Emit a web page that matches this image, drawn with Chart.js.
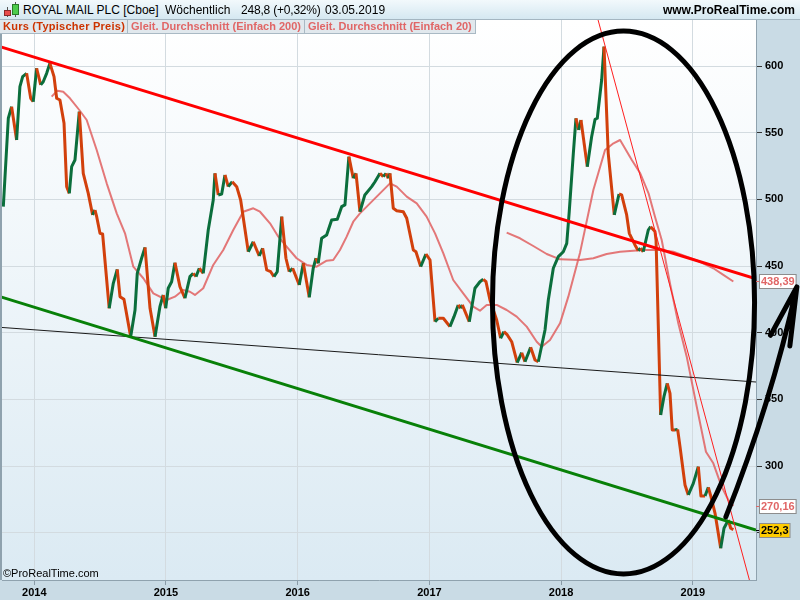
<!DOCTYPE html>
<html>
<head>
<meta charset="utf-8">
<script src="https://cdn.jsdelivr.net/npm/chart.js@4.4.1/dist/chart.umd.min.js"></script>
<style>
  body { margin: 0; width: 800px; height: 600px; overflow: hidden; background: #c9dbe5; font-family: 'Liberation Sans', Arial, sans-serif; }
  #wrap { position: relative; width: 800px; height: 600px; }
  #c { position: absolute; left: 0; top: 0; }
  #head { position: absolute; left: 0; top: 0; width: 800px; height: 19px; border-bottom: 1px solid #a4b6c1;
          background: linear-gradient(#f2f9fc, #d5e8f1); font-size: 12px; color: #000; }
  #head span { position: absolute; top: 3px; white-space: pre; }
  #head .site { right: 5px; font-weight: bold; }
  #icon { position: absolute; left: 2px; top: 2px; }
  #legend { position: absolute; left: 0; top: 20px; height: 14px; display: flex; }
  #legend span { display: block; height: 13px; line-height: 13px; padding: 0 3px; font-size: 11px; font-weight: bold;
                 background: #e1e8ed; border: 1px solid #a9b9c4; border-top: none; border-left: none; white-space: pre; }
  #legend span.first { letter-spacing: 0.25px; padding-right: 2px; }
  #copy { position: absolute; left: 3px; top: 567px; font-size: 11px; font-family: 'Liberation Sans Narrow', 'Liberation Sans', Arial; color: #000; }
</style>
</head>
<body>
<div id="wrap">
  <canvas id="c" width="800" height="600"></canvas>
  <div id="head">
    <svg id="icon" width="18" height="16">
      <line x1="5.5" y1="5" x2="5.5" y2="15" stroke="#555"/>
      <rect x="2.5" y="8.5" width="6" height="5" fill="#e84c4c" stroke="#8a2a2a"/>
      <line x1="13.5" y1="0" x2="13.5" y2="15" stroke="#555"/>
      <rect x="10.5" y="2.5" width="6" height="10" fill="#4ccc4c" stroke="#2a7a2a"/>
    </svg>
    <span style="left:23px">ROYAL MAIL PLC [Cboe]</span>
    <span style="left:165px">Wöchentlich</span>
    <span style="left:241px;letter-spacing:-0.2px">248,8 (+0,32%)</span>
    <span style="left:325px">03.05.2019</span>
    <span class="site">www.ProRealTime.com</span>
  </div>
  <div id="legend">
    <span class="first" style="color:#cc3300">Kurs (Typischer Preis)</span>
    <span style="color:#e06666">Gleit. Durchschnitt (Einfach 200)</span>
    <span style="color:#e06666">Gleit. Durchschnitt (Einfach 20)</span>
  </div>
  <div id="copy">©ProRealTime.com</div>
</div>
<script>
// weekly price (typical price), years as decimals
const priceYears = [2013.765,2013.803,2013.828,2013.866,2013.891,2013.912,2013.942,2013.973,2013.992,2014.018,
  2014.049,2014.068,2014.094,2014.119,2014.150,2014.170,2014.195,2014.226,2014.246,2014.266,
  2014.284,2014.309,2014.342,2014.372,2014.410,2014.443,2014.461,2014.474,2014.499,2014.519,
  2014.569,2014.600,2014.630,2014.651,2014.681,2014.732,2014.765,2014.782,2014.815,2014.841,
  2014.879,2014.917,2014.954,2014.979,2014.998,2015.017,2015.043,2015.068,2015.106,2015.144,
  2015.182,2015.207,2015.228,2015.253,2015.283,2015.321,2015.359,2015.372,2015.397,2015.423,
  2015.448,2015.473,2015.503,2015.537,2015.567,2015.625,2015.663,2015.708,2015.734,2015.765,
  2015.795,2015.820,2015.845,2015.879,2015.911,2015.936,2015.962,2016.012,2016.043,2016.088,
  2016.118,2016.139,2016.156,2016.182,2016.220,2016.258,2016.301,2016.334,2016.359,2016.389,
  2016.422,2016.443,2016.473,2016.510,2016.562,2016.587,2016.625,2016.650,2016.671,2016.688,
  2016.701,2016.726,2016.752,2016.802,2016.828,2016.878,2016.898,2016.934,2016.974,2017.005,
  2017.043,2017.068,2017.106,2017.156,2017.187,2017.219,2017.238,2017.250,2017.303,2017.346,
  2017.384,2017.409,2017.430,2017.460,2017.511,2017.541,2017.566,2017.592,2017.625,2017.667,
  2017.701,2017.726,2017.769,2017.802,2017.827,2017.878,2017.903,2017.941,2017.979,2018.017,
  2018.043,2018.062,2018.093,2018.113,2018.134,2018.151,2018.199,2018.232,2018.258,2018.275,
  2018.308,2018.326,2018.358,2018.404,2018.440,2018.460,2018.498,2018.518,2018.561,2018.586,
  2018.604,2018.624,2018.662,2018.680,2018.713,2018.721,2018.756,2018.781,2018.806,2018.827,
  2018.844,2018.865,2018.885,2018.903,2018.941,2018.966,2019.004,2019.042,2019.062,2019.093,
  2019.118,2019.138,2019.169,2019.212,2019.237,2019.270,2019.288,2019.308]
const priceValues = [494.5,560.8,569.5,544.5,584.5,592,594.5,575.8,573.2,598.3,
  585.8,588.2,594.5,602,592,575.8,574.5,557,509.5,504.5,
  524.5,529.5,565.7,519.5,504.5,488.3,492,487,474.5,474,
  418.3,437,447.5,427,425,397,417,444.5,455.8,464,
  418.3,397,419.5,428.3,418.3,433.3,438.2,452.5,434.5,425.8,
  442,444.5,442,448.3,444.5,477,499.5,519.5,503.3,504,
  518.3,509.5,513.2,509.5,499.5,460.7,468.2,457.5,463.3,447,
  445.7,442,445.7,487,455.8,445.7,448.3,435.8,452,426.5,
  448.3,455.8,452,470.8,473.3,484.5,485,494.5,495.8,532,
  515.8,519.5,490.7,503.3,509.5,513.2,519.5,517,519.5,515.8,
  519.5,493.3,491.5,490.7,485.8,462,460.7,449.5,459,454.5,
  408.2,410.8,410.8,404.5,412,420.8,418.3,420.8,408.2,433.3,
  438.2,440,438.2,424.5,409.5,395.8,400.8,398.3,393.2,377.5,
  385,378.2,389,379.5,378.2,402,424.5,448.3,457,460.7,
  467,490.7,534.5,560.8,552,559.5,524.5,547,560,560.8,
  589.5,614.5,534.5,488.3,504,503.3,488.3,474.5,465.8,461.5,
  463.3,460.7,477,479.5,475.8,469.5,338.3,352,362,354.5,
  327,327,327.5,314.5,285.8,278.3,287,299.5,277.5,277.5,
  284,277,264.5,238.3,253.3,259.5,253.3,252.3]

// simple moving average 20
const ma20Years = [2014.132,2014.175,2014.220,2014.271,2014.342,2014.398,2014.474,2014.550,2014.626,2014.689,
  2014.752,2014.828,2014.904,2015.005,2015.068,2015.131,2015.182,2015.220,2015.283,2015.359,
  2015.435,2015.511,2015.587,2015.663,2015.714,2015.790,2015.853,2015.916,2015.992,2016.068,
  2016.144,2016.220,2016.270,2016.321,2016.372,2016.422,2016.473,2016.549,2016.625,2016.701,
  2016.752,2016.828,2016.904,2016.979,2017.043,2017.106,2017.181,2017.257,2017.333,2017.384,
  2017.435,2017.511,2017.587,2017.663,2017.739,2017.815,2017.853,2017.916,2017.992,2018.055,
  2018.144,2018.245,2018.334,2018.398,2018.448,2018.537,2018.601,2018.664,2018.713,2018.764,
  2018.827,2018.890,2018.954,2019.030,2019.100,2019.156,2019.219,2019.270,2019.308]
const ma20Values = [577,581.5,580.7,575.8,567,559.5,537,512,489.5,474.5,
  449.5,440.8,429.5,424.5,427,432,430.7,428.3,433.3,450.8,
  462,477,490.7,493.3,490.7,482,472,464.5,455.8,450.8,
  449.5,454,454.5,462,472,483.2,489.5,497,504.5,512,
  509.5,502,497,487,474.5,459.5,439.5,429.5,419.5,416.5,
  420.8,420.8,417,412,404.5,393.2,389.5,394.5,407,427,
  460,507,537,542,544.5,529.5,519.5,504.5,487,469.5,
  437,407,382,344.5,310.7,302,284.5,274.5,270.16]

// simple moving average 200
const ma200Years = [2017.587,2017.688,2017.789,2017.891,2017.992,2018.144,2018.245,2018.346,2018.448,
  2018.624,2018.751,2018.852,2018.954,2019.055,2019.156,2019.232,2019.308]
const ma200Values = [475,470.8,465,459,455,454.5,455.8,459,460.7,462,462,460.7,457,453.2,448.3,443.3,438.39]

// hand drawn trend lines
const resistYears = [2013.74, 2019.48]
const resistValues = [614.5, 440.3]
const supportYears = [2013.74, 2019.48]
const supportValues = [427, 252]
const midYears = [2013.74, 2019.48]
const midValues = [404, 363]
const steepYears = [2018.281, 2019.43]
const steepValues = [634.5, 214.5]

// ellipse + arrow annotation (data units)
const ellipseCenter = [2018.474, 422.6]
const ellipseRadius = [0.995, 203.6]
const arrowYears = [2019.251, 2019.556, 2019.790]
const arrowValues = [261.8, 347.3, 434.3]
const barbYears = [2019.590, 2019.737]
const barbValues = [398, 390]

const xTicks = [2014, 2015, 2016, 2017, 2018, 2019]
const yTicks = [250, 300, 350, 400, 450, 500, 550, 600]

const FONT = "'Liberation Sans', Arial, sans-serif"
const UP = '#0b6e3c'
const DOWN = '#d2400c'
const MA = 'rgba(224,96,96,0.85)'

function pts(xs, ys) {
  return xs.map((x, i) => ({ x: x, y: ys[i] }))
}
function deFmt(v, d) {
  return v.toFixed(d).replace('.', ',')
}

const bgPlugin = {
  id: 'bg',
  beforeDraw(chart) {
    const { ctx, chartArea: a } = chart
    ctx.save()
    ctx.fillStyle = '#c9dbe5'
    ctx.fillRect(0, 0, chart.width, chart.height)
    const g = ctx.createLinearGradient(0, a.top, 0, a.bottom)
    g.addColorStop(0, '#ffffff')
    g.addColorStop(1, '#dbeaf3')
    ctx.fillStyle = g
    ctx.fillRect(a.left, a.top, a.right - a.left, a.bottom - a.top)
    ctx.fillStyle = '#8fa2ae'
    ctx.fillRect(0, a.top, 2, a.bottom - a.top)
    ctx.restore()
  }
}

const annotPlugin = {
  id: 'annot',
  afterDatasetsDraw(chart) {
    const { ctx } = chart
    const xs = chart.scales.x, ys = chart.scales.y
    const cx = xs.getPixelForValue(ellipseCenter[0])
    const cy = ys.getPixelForValue(ellipseCenter[1])
    const rx = xs.getPixelForValue(ellipseCenter[0] + ellipseRadius[0]) - cx
    const ry = cy - ys.getPixelForValue(ellipseCenter[1] + ellipseRadius[1])
    ctx.save()
    ctx.strokeStyle = '#000'
    ctx.lineWidth = 5
    ctx.beginPath()
    ctx.ellipse(cx, cy, rx, ry, 0, 0, Math.PI * 2)
    ctx.stroke()
    ctx.restore()
  },
  afterDraw(chart) {
    const { ctx, chartArea: a } = chart
    const xs = chart.scales.x, ys = chart.scales.y

    // value tags on the right axis
    const tags = [
      { v: ma200Values[ma200Values.length - 1], t: deFmt(ma200Values[ma200Values.length - 1], 2), bg: '#ffffff', fg: '#e06666', line: '#e06666' },
      { v: ma20Values[ma20Values.length - 1], t: deFmt(ma20Values[ma20Values.length - 1], 2), bg: '#ffffff', fg: '#e06666', line: '#e06666' },
      { v: priceValues[priceValues.length - 1], t: deFmt(priceValues[priceValues.length - 1], 1), bg: '#ffcc00', fg: '#000000', line: '#000000' }
    ]
    ctx.save()
    ctx.font = 'bold 11px ' + FONT
    ctx.textBaseline = 'middle'
    tags.forEach(tg => {
      const y = Math.round(ys.getPixelForValue(tg.v))
      const w = ctx.measureText(tg.t).width + 3
      ctx.strokeStyle = tg.line
      ctx.lineWidth = 1
      ctx.beginPath()
      ctx.moveTo(a.right, y + 0.5)
      ctx.lineTo(a.right + 3, y + 0.5)
      ctx.stroke()
      ctx.fillStyle = tg.bg
      ctx.fillRect(a.right + 3, y - 7, w, 15)
      ctx.strokeStyle = '#8d8d8d'
      ctx.strokeRect(a.right + 3.5, y - 6.5, w, 14)
      ctx.fillStyle = tg.fg
      ctx.fillText(tg.t, a.right + 5, y + 1)
    })
    ctx.restore()

    // arrow
    const px = arrowYears.map(v => xs.getPixelForValue(v))
    const py = arrowValues.map(v => ys.getPixelForValue(v))
    const ctrlX = 2 * px[1] - (px[0] + px[2]) / 2
    const ctrlY = 2 * py[1] - (py[0] + py[2]) / 2
    ctx.save()
    ctx.strokeStyle = '#000'
    ctx.lineWidth = 5
    ctx.lineCap = 'round'
    ctx.lineJoin = 'round'
    ctx.beginPath()
    ctx.moveTo(px[0], py[0])
    ctx.quadraticCurveTo(ctrlX, ctrlY, px[2], py[2])
    barbYears.forEach((bx, i) => {
      ctx.moveTo(px[2], py[2])
      ctx.lineTo(xs.getPixelForValue(bx), ys.getPixelForValue(barbValues[i]))
    })
    ctx.stroke()
    ctx.restore()
  }
}

new Chart(document.getElementById('c'), {
  type: 'line',
  data: {
    datasets: [
      { data: pts(steepYears, steepValues), borderColor: '#ff1f1f', borderWidth: 1 },
      { data: pts(resistYears, resistValues), borderColor: '#ff0000', borderWidth: 3 },
      { data: pts(supportYears, supportValues), borderColor: '#088008', borderWidth: 3 },
      { data: pts(midYears, midValues), borderColor: '#1a1a1a', borderWidth: 1 },
      {
        data: pts(priceYears, priceValues), borderWidth: 3, borderColor: DOWN,
        segment: { borderColor: c => c.p1.parsed.y > c.p0.parsed.y ? UP : DOWN }
      },
      { data: pts(ma20Years, ma20Values), borderColor: MA, borderWidth: 2 },
      { data: pts(ma200Years, ma200Values), borderColor: MA, borderWidth: 2 }
    ]
  },
  options: {
    responsive: false,
    animation: false,
    events: [],
    layout: { padding: { top: 20, left: 2, right: 0, bottom: 0 } },
    elements: { point: { radius: 0 }, line: { tension: 0, borderJoinStyle: 'round' } },
    plugins: { legend: { display: false }, tooltip: { enabled: false } },
    scales: {
      x: {
        type: 'linear', min: 2013.755, max: 2019.48,
        afterBuildTicks: s => { s.ticks = xTicks.map(v => ({ value: v })) },
        afterFit: s => { s.height = 20 },
        ticks: { callback: v => String(v), color: '#000', font: { family: FONT, size: 11, weight: 'bold' }, padding: 1, maxRotation: 0, autoSkip: false },
        grid: { color: '#d3dbe0', tickLength: 5, tickColor: '#8a9ba7' },
        border: { color: '#8fa2ae' }
      },
      y: {
        position: 'right', min: 214.5, max: 634.5,
        afterBuildTicks: s => { s.ticks = yTicks.map(v => ({ value: v })) },
        afterFit: s => { s.width = 44 },
        ticks: { callback: v => String(v), color: '#000', font: { family: FONT, size: 11, weight: 'bold' }, padding: 3 },
        grid: { color: '#d3dbe0', tickLength: 6, tickColor: '#333' },
        border: { color: '#8fa2ae' }
      }
    }
  },
  plugins: [bgPlugin, annotPlugin]
})
</script>
</body>
</html>
